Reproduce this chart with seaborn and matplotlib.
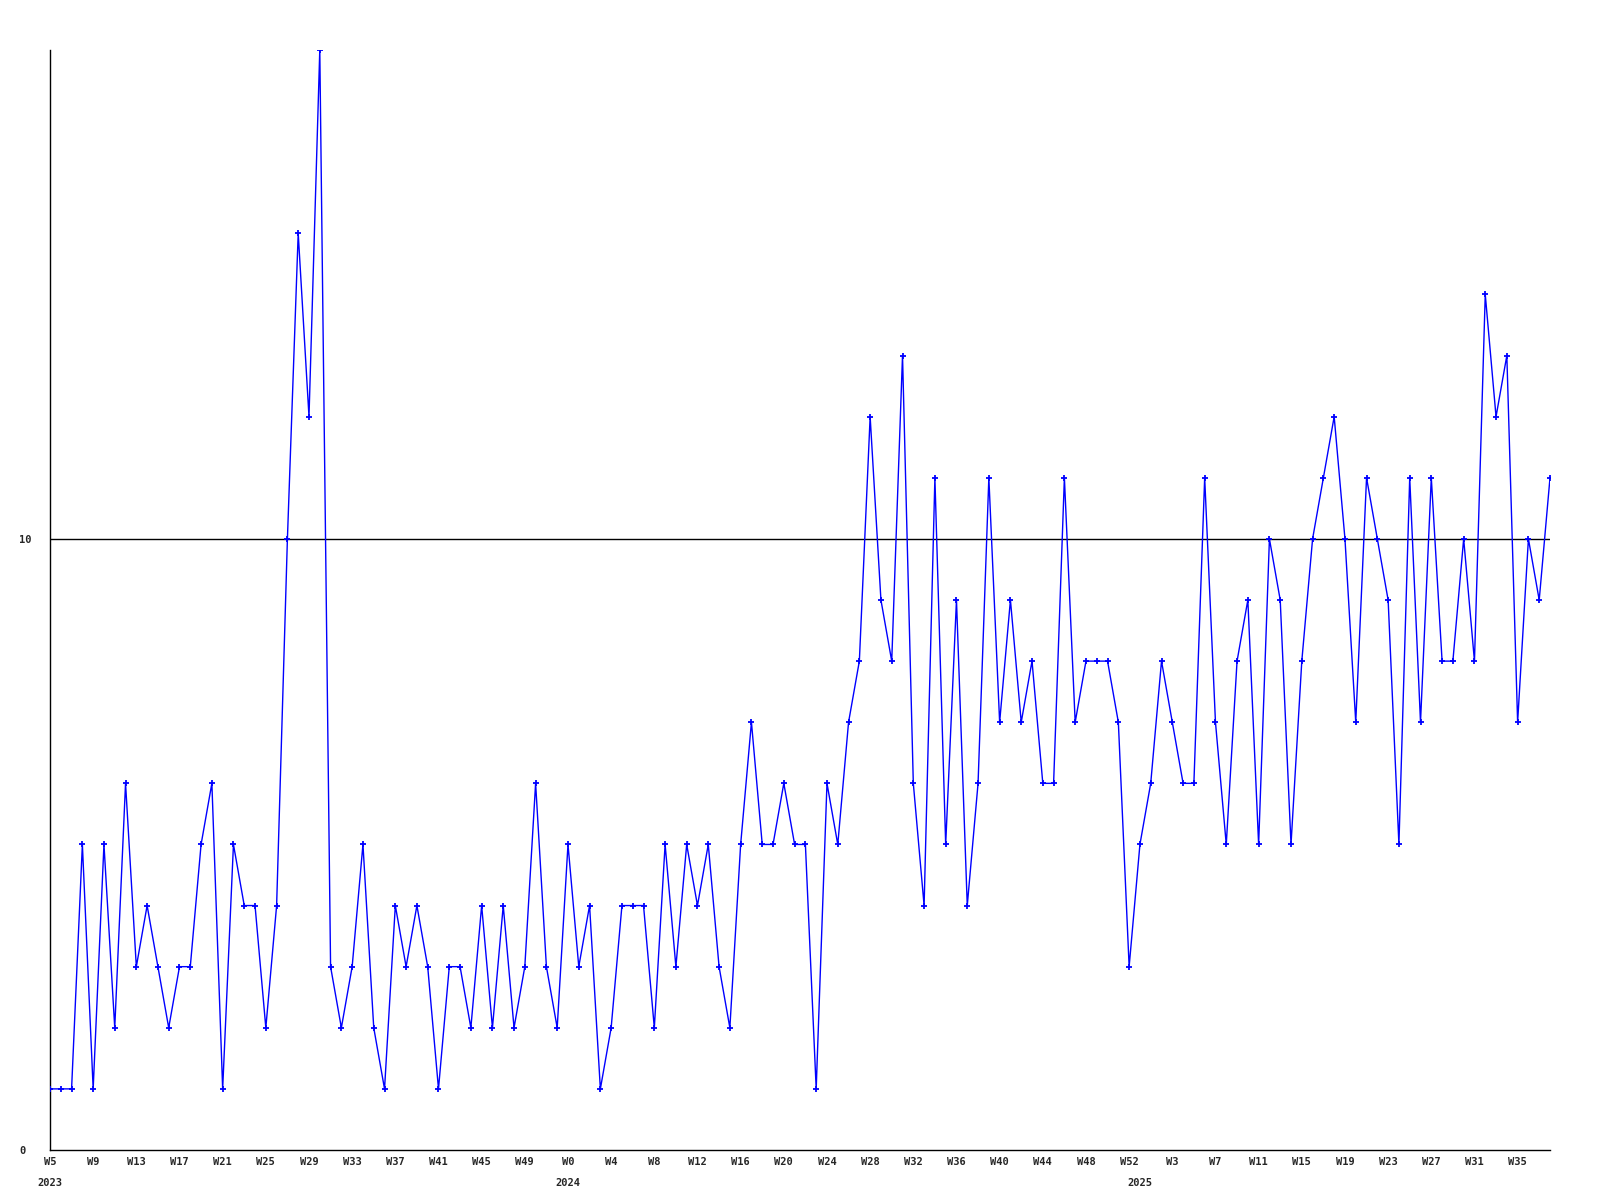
import numpy as np
import pandas as pd
import matplotlib
matplotlib.use("Agg")
import matplotlib.pyplot as plt
import seaborn as sns

# --- data ---
weeks_2023 = list(range(5, 53))      # W5..W52
weeks_2024 = list(range(0, 53))      # W0..W52
weeks_2025 = list(range(0, 39))      # W0..W38

values_2023 = [1, 1, 1, 5, 1, 5, 2, 6, 3, 4,
               3, 2, 3, 3, 5, 6, 1, 5, 4, 4,
               2, 4, 10, 15, 12, 18, 3, 2, 3, 5,
               2, 1, 4, 3, 4, 3, 1, 3, 3, 2,
               4, 2, 4, 2, 3, 6, 3, 2]
values_2024 = [5, 3, 4, 1, 2, 4, 4, 4, 2, 5,
               3, 5, 4, 5, 3, 2, 5, 7, 5, 5,
               6, 5, 5, 1, 6, 5, 7, 8, 12, 9,
               8, 13, 6, 4, 11, 5, 9, 4, 6, 11,
               7, 9, 7, 8, 6, 6, 11, 7, 8, 8,
               8, 7, 3]
values_2025 = [5, 6, 8, 7, 6, 6, 11, 7, 5, 8,
               9, 5, 10, 9, 5, 8, 10, 11, 12, 10,
               7, 11, 10, 9, 5, 11, 7, 11, 8, 8,
               10, 8, 14, 12, 13, 7, 10, 9, 11]

y_ticks = [0, 10]
tick_every = 4

years = [2023] * len(weeks_2023) + [2024] * len(weeks_2024) + [2025] * len(weeks_2025)
weeks = weeks_2023 + weeks_2024 + weeks_2025
values = values_2023 + values_2024 + values_2025
df = pd.DataFrame({"idx": np.arange(len(values)), "year": years, "week": weeks, "value": values})

sns.set_style("white")
plt.rcParams["font.family"] = ["DejaVu Sans Mono"]

fig = plt.figure(figsize=(16, 12), dpi=100)
ax = fig.add_axes([50 / 1600, 50 / 1200, 1500 / 1600, 1100 / 1200])

ax.axhline(10, color="black", lw=1.0, zorder=1)
sns.lineplot(data=df, x="idx", y="value", ax=ax, color="#0000ff", lw=1.0,
             marker="+", markersize=4, markeredgewidth=1.3,
             markeredgecolor="#0000ff", zorder=3)

ax.set_xlim(0, len(values) - 1)
ax.set_ylim(0, 18)

for s in ["top", "right"]:
    ax.spines[s].set_visible(False)
for s in ["left", "bottom"]:
    ax.spines[s].set_color("black")
    ax.spines[s].set_linewidth(1.0)

ticks = list(range(0, len(values), tick_every))
ax.set_xticks(ticks)
ax.set_xticklabels([f"W{df.week[i]}" for i in ticks], fontsize=7.5, fontweight="bold")
ax.set_yticks(y_ticks)
ax.set_yticklabels([str(t) for t in y_ticks], fontsize=7.5, fontweight="bold", ha="left")
ax.tick_params(axis="x", length=0, pad=5)
ax.tick_params(axis="y", length=0, pad=22)
ax.set_xlabel("")
ax.set_ylabel("")
ax.grid(False)

# year labels at the first week of each year
for yr in [2023, 2024, 2025]:
    first = int(df.index[df.year == yr][0])
    ax.text(first, -0.025, str(yr), transform=ax.get_xaxis_transform(),
            ha="center", va="top", fontsize=7.5, fontweight="bold")

fig.savefig("out.png", dpi=100)
